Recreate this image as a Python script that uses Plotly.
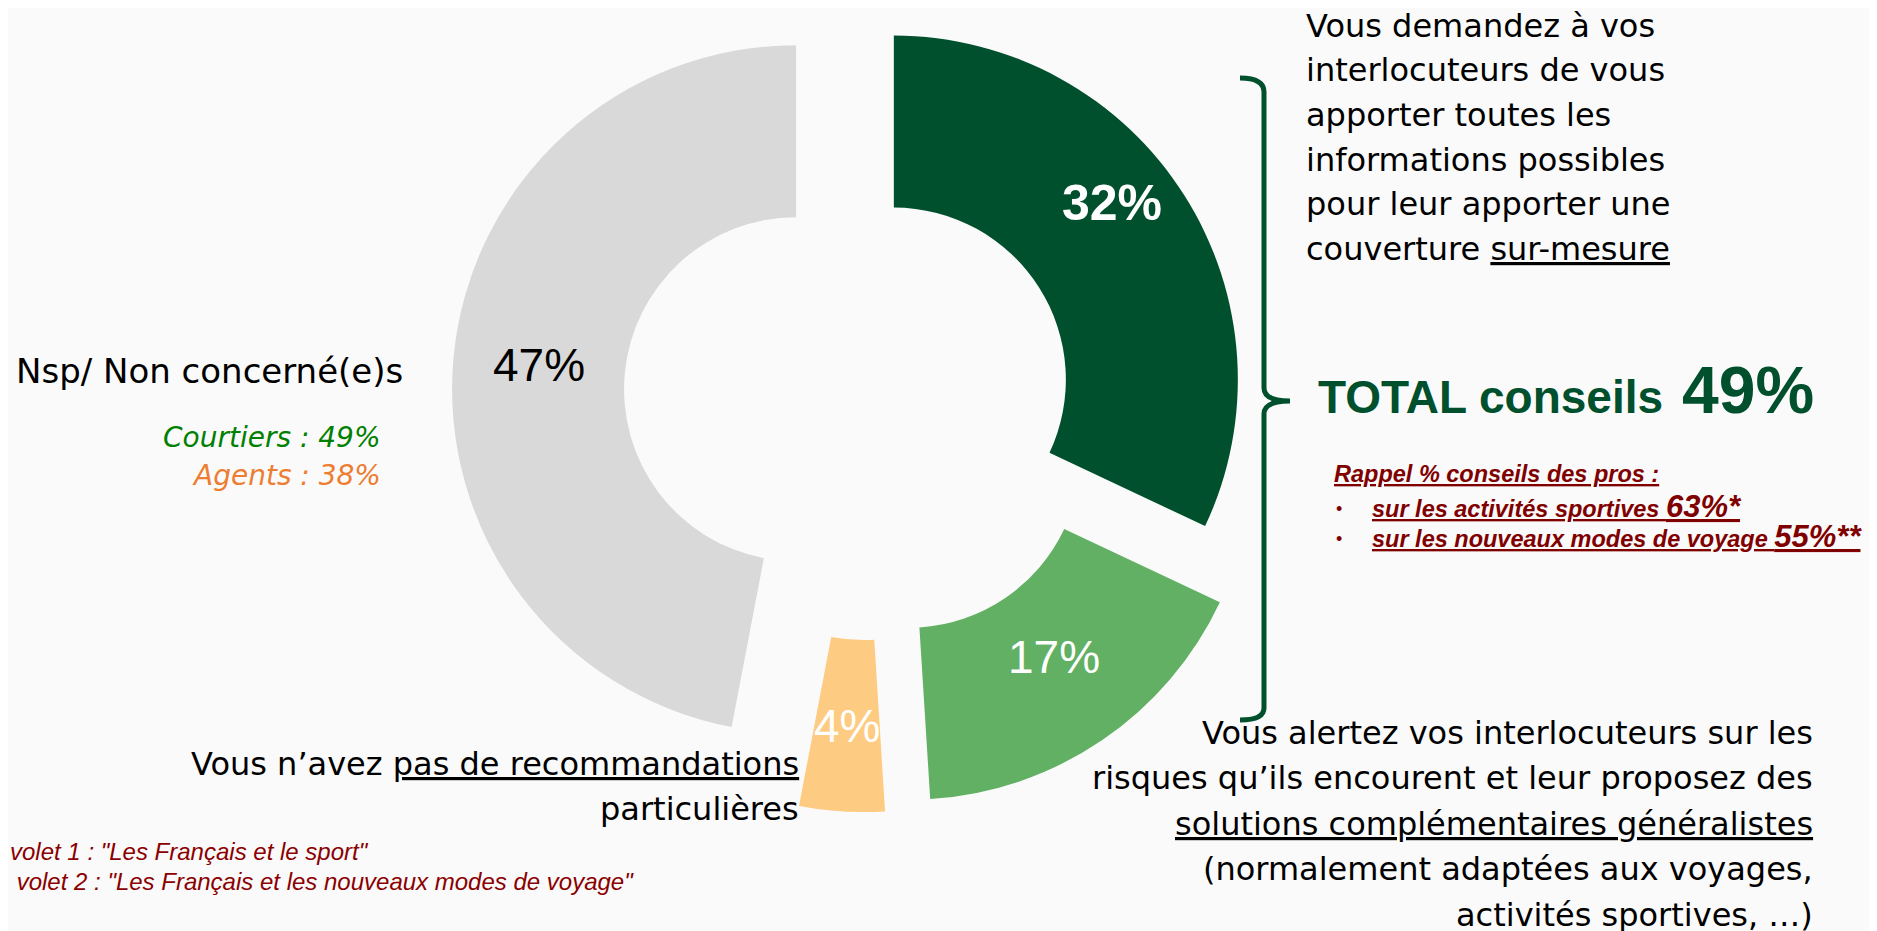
import math
import plotly.graph_objects as go

W, H = 1877, 931
OFF = 8  # the page body keeps its default 8px margin around the figure

# donut data (clockwise from 12 o'clock)
labels = ['Conseils sur-mesure', 'Solutions généralistes', 'Pas de recommandations', 'Nsp/ Non concerné(e)s']
values = [32, 17, 4, 47]
colors = ['#00502D', '#62B063', '#FECB82', '#D9D9D9']
pulls = [0.089, 0.21, 0.21, 0.21]  # explode distance, as a fraction of the radius
label_colors = ['white', 'white', 'white', 'black']
label_sizes = [50, 46, 46, 46]
label_bold = [True, False, False, False]
label_lift = [38, 12, 0, 0]  # px the value label sits above the segment middle

# side texts
top_right_lines = ['Vous demandez à vos', 'interlocuteurs de vous', 'apporter toutes les',
                   'informations possibles', 'pour leur apporter une',
                   'couverture <u>sur-mesure</u>']
bottom_right_lines = ['Vous alertez vos interlocuteurs sur les',
                      'risques qu’ils encourent et leur proposez des',
                      '<u>solutions complémentaires généralistes</u>',
                      '(normalement adaptées aux voyages,',
                      'activités sportives, …)']
bottom_left_lines = ['Vous n’avez <u>pas de recommandations</u>', 'particulières']
nsp_label = 'Nsp/ Non concerné(e)s'
nsp_split = [('Courtiers', 49, '#008000'), ('Agents', 38, '#ED7D31')]
rappel_title = 'Rappel % conseils des pros :'
rappel_items = [('sur les activités sportives', 63, '*'), ('sur les nouveaux modes de voyage', 55, '**')]
footnotes = ['volet 1 : "Les Français et le sport"',
             ' volet 2 : "Les Français et les nouveaux modes de voyage"']

TAHOMA = 'DejaVu Sans, Verdana, sans-serif'
ARIAL = 'Liberation Sans, Arial, sans-serif'
DARK_RED = '#800000'
GREEN = '#00502D'

# donut geometry in page pixels
CX, CY, R = 868, 396, 344
HOLE = 0.5


def px(x):
    return (x - OFF) / W


def py(y):
    return 1 - (y - OFF) / H


fig = go.Figure()
annotations = []

# each exploded segment is its own pie, centred where the explode moves it
total_all = sum(values)
mid_r = R * (1 + HOLE) / 2
cum = 0
for lab, v, col, pl, lcol, lsz, bold, lift in zip(labels, values, colors, pulls, label_colors,
                                                   label_sizes, label_bold, label_lift):
    ang = 2 * math.pi * (cum + v / 2) / total_all
    ux, uy = math.sin(ang), -math.cos(ang)
    sx = CX + pl * R * ux
    sy = CY + pl * R * uy
    fig.add_trace(go.Pie(
        labels=[lab, ''], values=[v, total_all - v], sort=False,
        direction='clockwise', rotation=360 * cum / total_all,
        hole=HOLE, marker=dict(colors=[col, 'rgba(0,0,0,0)'], line=dict(width=0)),
        textinfo='none', showlegend=False, hoverinfo='label+value',
        domain=dict(x=[px(sx - R), px(sx + R)], y=[py(sy + R), py(sy - R)]),
    ))
    txt = f'{v}%'
    if bold:
        txt = f'<b>{txt}</b>'
    annotations.append(dict(
        x=px(sx + mid_r * ux), y=py(sy + mid_r * uy - lift), xref='paper', yref='paper',
        text=txt, showarrow=False, xanchor='center', yanchor='middle',
        font=dict(family=ARIAL, size=lsz, color=lcol)))
    cum += v


def note(x, baseline, text, size, color='black', family=TAHOMA, anchor='left'):
    # single line, placed so that its baseline sits on the given page row
    annotations.append(dict(
        x=px(x), y=py(baseline - 0.35 * size), xref='paper', yref='paper',
        text=text, showarrow=False, xanchor=anchor, yanchor='middle',
        font=dict(family=family, size=size, color=color), align=anchor))


for i, line in enumerate(top_right_lines):
    note(1304, 37 + 44.6 * i, line, 32)

for i, line in enumerate(bottom_right_lines):
    note(1815, 744 + 45.5 * i, line, 32, anchor='right')

for i, line in enumerate(bottom_left_lines):
    note(801, 775 + 45 * i, line, 32, anchor='right')

note(14, 383, nsp_label, 34)
for i, (who, pct, col) in enumerate(nsp_split):
    note(383, 447 + 38 * i, f'<i>{who} : {pct}%</i>', 28, color=col, anchor='right')

total = values[0] + values[1]
note(1316, 413, '<b>TOTAL conseils</b>', 46, color=GREEN, family=ARIAL)
note(1680, 413, f'<b>{total}%</b>', 66, color=GREEN, family=ARIAL)

note(1332, 482, f'<b><i><u>{rappel_title}</u></i></b>', 23.5, color=DARK_RED, family=ARIAL)
for i, (txt, pct, star) in enumerate(rappel_items):
    note(1334, 515 + 30 * i, '•', 18, color=DARK_RED, family=ARIAL)
    note(1370, 515 + 30 * i,
         f"<b><i><u>{txt} <span style='font-size:31px'>{pct}%{star}</span></u></i></b>",
         23.5, color=DARK_RED, family=ARIAL)

for i, line in enumerate(footnotes):
    note(OFF, 860 + 30 * i, f'<i>{line}</i>', 24, color='#8B0000', family=ARIAL)


def p(x, y):
    return f'{px(x):.5f},{py(y):.5f}'


brace = (f'M {p(1240, 78)} Q {p(1264, 78)} {p(1264, 92)} L {p(1264, 388)} '
         f'Q {p(1264, 401)} {p(1290, 401)} Q {p(1264, 401)} {p(1264, 414)} '
         f'L {p(1264, 708)} Q {p(1264, 720)} {p(1240, 720)}')

fig.update_layout(
    width=W, height=H,
    margin=dict(l=0, r=0, t=0, b=0),
    paper_bgcolor='#FAFAFA', plot_bgcolor='#FAFAFA',
    annotations=annotations,
    shapes=[dict(type='path', path=brace, xref='paper', yref='paper',
                 line=dict(color=GREEN, width=5))],
)

fig.write_html('out.html')
